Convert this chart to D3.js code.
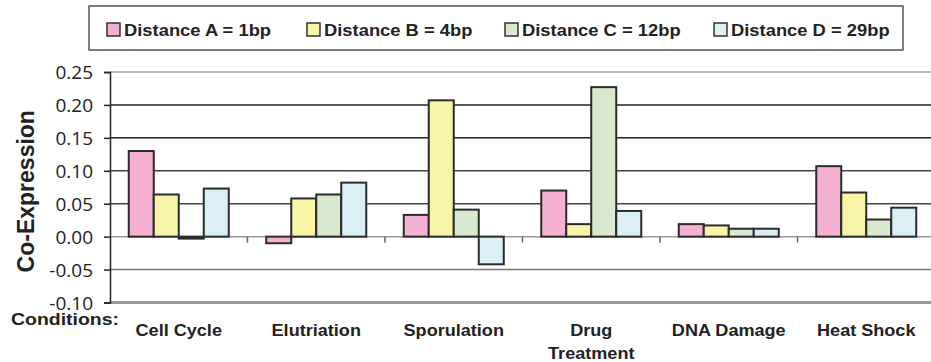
<!DOCTYPE html>
<html>
<head>
<meta charset="utf-8">
<script src="https://cdn.jsdelivr.net/npm/d3@7"></script>
<style>
  html, body { margin: 0; padding: 0; background: #fff; }
  svg { display: block; }
</style>
</head>
<body>
<svg id="chart" width="931" height="362"></svg>
<script>
// Co-expression by experimental condition for four gene-pair distances
const categories = ["Cell Cycle", "Elutriation", "Sporulation", "Drug\nTreatment", "DNA Damage", "Heat Shock"];
const seriesNames = ["Distance A = 1bp", "Distance B = 4bp", "Distance C = 12bp", "Distance D = 29bp"];
const seriesColors = ["#f5afd1", "#f8f5a9", "#d9e9d0", "#dbeff6"];
const distanceA = [0.130, -0.010, 0.033, 0.070, 0.019, 0.107];
const distanceB = [0.064, 0.058, 0.207, 0.019, 0.017, 0.067];
const distanceC = [-0.003, 0.064, 0.041, 0.227, 0.012, 0.026];
const distanceD = [0.073, 0.082, -0.042, 0.039, 0.012, 0.044];
const yTicks = [-0.10, -0.05, 0.00, 0.05, 0.10, 0.15, 0.20, 0.25];

const series = [distanceA, distanceB, distanceC, distanceD];
const boldFont = "'Liberation Sans', Arial, sans-serif";

const svg = d3.select("#chart");
const m = { left: 110, right: 935, top: 72, bottom: 302.5 };

const y = d3.scaleLinear().domain([-0.10, 0.25]).range([m.bottom, m.top]);
const x = d3.scaleBand().domain(categories).range([m.left, m.right]).padding(0);
const xs = d3.scaleBand().domain(d3.range(series.length))
  .range([0, x.bandwidth()]).paddingInner(0).paddingOuter(0.75);

// horizontal gridlines
const gridStyle = {
  "0.25": ["#bdbdbd", 2],
  "0.2": ["#222", 1.5],
  "0.15": ["#222", 1.5],
  "0.1": ["#444", 1.5],
  "0.05": ["#444", 1.5],
  "0": ["#9a9a9a", 1.5],
  "-0.05": ["#777", 1.5],
  "-0.1": ["#9a9a9a", 3]
};
svg.append("g").selectAll("line").data(yTicks).join("line")
  .attr("x1", m.left).attr("x2", m.right)
  .attr("y1", d => y(d)).attr("y2", d => y(d))
  .attr("stroke", d => gridStyle[String(+d.toFixed(2))][0])
  .attr("stroke-width", d => gridStyle[String(+d.toFixed(2))][1]);

// separators between condition groups, hanging below the zero line
svg.append("g").selectAll("line").data(categories.slice(1)).join("line")
  .attr("x1", d => x(d)).attr("x2", d => x(d))
  .attr("y1", y(0)).attr("y2", y(0) + 6)
  .attr("stroke", "#666").attr("stroke-width", 1.5);

// bars
const bars = [];
series.forEach((vals, si) => vals.forEach((v, ci) => bars.push({ si, ci, v })));
svg.append("g").selectAll("rect").data(bars).join("rect")
  .attr("x", d => x(categories[d.ci]) + xs(d.si))
  .attr("width", xs.bandwidth())
  .attr("y", d => Math.min(y(d.v), y(0)))
  .attr("height", d => Math.abs(y(d.v) - y(0)))
  .attr("fill", d => seriesColors[d.si])
  .attr("stroke", "#2b2b2b").attr("stroke-width", 2);

// y axis (plain hyphen for negatives)
const fmt = d3.format(".2f");
const yAxis = d3.axisLeft(y).tickValues(yTicks)
  .tickFormat(d => fmt(d).replace("\u2212", "-")).tickSize(6).tickPadding(11);
const gy = svg.append("g").attr("transform", `translate(${m.left},0)`).call(yAxis);
gy.select(".domain").attr("stroke", "#222").attr("stroke-width", 1.5);
gy.selectAll(".tick line").attr("stroke", "#222").attr("stroke-width", 1.5);
gy.selectAll(".tick text")
  .attr("font-family", "'Open Sans', sans-serif").attr("font-size", 19)
  .attr("fill", "#222").attr("dy", "0.36em");

// y axis title
svg.append("text")
  .attr("transform", `translate(34,${(m.top + m.bottom) / 2 + 4}) rotate(-90)`)
  .attr("text-anchor", "middle")
  .attr("font-family", boldFont)
  .attr("font-weight", "bold").attr("font-size", 23).attr("fill", "#222")
  .text("Co-Expression");

// bold text that is slightly wider than the face's natural proportions
function wideText(parent, tx, ty, size, sx, anchor, str) {
  return parent.append("text")
    .attr("transform", `translate(${tx},${ty}) scale(${sx},1)`)
    .attr("text-anchor", anchor)
    .attr("font-family", boldFont)
    .attr("font-weight", "bold").attr("font-size", size).attr("fill", "#222")
    .text(str);
}

// condition labels
wideText(svg, 11, 325, 16.5, 1.18, "start", "Conditions:");
categories.forEach(c => {
  c.split("\n").forEach((line, i) => {
    wideText(svg, x(c) + x.bandwidth() / 2, 336 + i * 23, 16, 1.13, "middle", line);
  });
});

// legend
const legend = svg.append("g");
legend.append("rect")
  .attr("x", 89).attr("y", 6).attr("width", 814).attr("height", 44)
  .attr("fill", "#fff").attr("stroke", "#555").attr("stroke-width", 1.5);
const legendX = [107, 307, 505, 714];
seriesNames.forEach((name, i) => {
  const g = legend.append("g").attr("transform", `translate(${legendX[i]},23)`);
  g.append("rect")
    .attr("width", 13).attr("height", 13)
    .attr("fill", seriesColors[i])
    .attr("stroke", "#333").attr("stroke-width", 1.5);
  wideText(g, 17, 12.5, 17, 1.08, "start", name);
});
</script>
</body>
</html>
